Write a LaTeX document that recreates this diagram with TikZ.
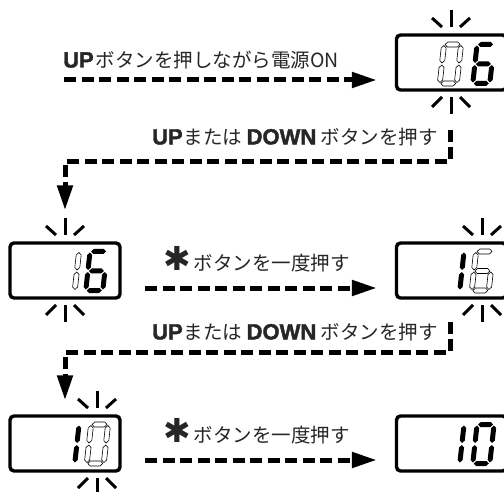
\documentclass[tikz,border=0pt]{standalone}
\usepackage{fontspec}
\usetikzlibrary{arrows.meta,calc}
\newfontfamily\jp{Noto Sans CJK JP}
\newfontfamily\hv{Liberation Sans}[BoldFeatures={FakeBold=1.8}]
\newfontfamily\sym{DejaVu Sans}
\newcommand\hvb[1]{{\hv\bfseries\fontsize{22}{22}\selectfont #1}}
\newcommand\astx{{\sym\fontsize{33}{33}\selectfont ✱}}
% seven segment pieces (local coords, y up)
\newcommand\hseg[3]{(#1+1,#3) -- (#1+3.5,#3+2.5) -- (#2-3.5,#3+2.5) -- (#2-1,#3) -- (#2-3.5,#3-2.5) -- (#1+3.5,#3-2.5) -- cycle}
\newcommand\vseg[3]{(#1,#2+1) -- (#1+2.5,#2+3.5) -- (#1+2.5,#3-3.5) -- (#1,#3-1) -- (#1-2.5,#3-3.5) -- (#1-2.5,#2+3.5) -- cycle}
\newcommand\dsga{\hseg{2.5}{19.5}{41.5}}
\newcommand\dsgb{\vseg{19.5}{22}{41.5}}
\newcommand\dsgc{\vseg{19.5}{2.5}{22}}
\newcommand\dsgd{\hseg{2.5}{19.5}{2.5}}
\newcommand\dsge{\vseg{2.5}{2.5}{22}}
\newcommand\dsgf{\vseg{2.5}{22}{41.5}}
\newcommand\dsgg{\hseg{2.5}{19.5}{22}}
\newcommand\Dzero{\dsga,\dsgb,\dsgc,\dsgd,\dsge,\dsgf}
\newcommand\Done{\dsgb,\dsgc}
\newcommand\Dsix{\dsga,\dsgc,\dsgd,\dsge,\dsgf,\dsgg}
\newcommand\dig[4]{\begin{scope}[shift={(#1,#2)},x=1pt,y=1pt,xslant=0.11]
  \foreach \s in #4 {\path[#3] \s;}\end{scope}}
\newcommand\rays[3]{%
  \draw[ray] (#1,#2-25) -- (#1,#2-8);
  \draw[ray] (#1-9,#2-8) -- (#1-19,#2-17);
  \draw[ray] (#1+9,#2-8) -- (#1+19,#2-17);
  \draw[ray] (#1,#3+7) -- (#1,#3+24);
  \draw[ray] (#1-9,#3+7) -- (#1-19,#3+17);
  \draw[ray] (#1+9,#3+7) -- (#1+19,#3+17);}
\tikzset{
  dispbox/.style={draw, line width=3.4pt, rounded corners=4pt, minimum width=110pt, minimum height=55pt, inner sep=0pt},
  lit/.style={fill=black},
  unlit/.style={draw=black, fill=white, line width=0.6pt, line join=round},
  ray/.style={line width=3pt},
  dline/.style={line width=5pt, dash pattern=on 12pt off 5.5pt, line join=miter},
  arr/.style={dline, -{Triangle[length=25pt,width=15pt]}},
  lbl/.style={font=\jp\fontsize{19.5}{22}\selectfont, inner sep=0pt, text=black!85}
}
\begin{document}
\begin{tikzpicture}[x=1pt,y=-1pt]
\useasboundingbox (0,0) rectangle (504,492);
\clip (0,0) rectangle (504,492);
% display boxes
\node[dispbox] (d1) at (451.5,62.5) {};
\node[dispbox] (d2) at (65,270.5) {};
\node[dispbox] (d3) at (451.5,270.5) {};
\node[dispbox] (d4) at (65,443.5) {};
\node[dispbox] (d5) at (451.5,443.5) {};
% digits
\dig{437}{86}{unlit}{\Dzero}
\dig{470}{86}{lit}{\Dsix}
\dig{55}{293}{unlit}{\Done}
\dig{83}{293}{lit}{\Dsix}
\dig{440}{293}{lit}{\Done}
\dig{469}{293}{unlit}{\Dsix}
\dig{55}{466}{lit}{\Done}
\dig{84}{466}{unlit}{\Dzero}
\dig{440}{466}{lit}{\Done}
\dig{470}{466}{lit}{\Dzero}
% blinking rays
\rays{451}{35}{90}
\rays{65}{243}{298}
\rays{482}{243}{298}
\rays{97}{416}{471}
% labels
\node[lbl, anchor=west] (t1) at (63,60) {\hvb{UP}\hspace{2pt}ボタンを押しながら電源ON};
\node[lbl, anchor=west] (t2) at (152,137) {\hvb{UP}\hspace{1pt}または \hvb{DOWN} ボタンを押す};
\node[lbl, anchor=west] (t3) at (163,259) {\astx\hspace{3pt}ボタンを一度押す};
\node[lbl, anchor=west] (t4) at (152,332) {\hvb{UP}\hspace{1pt}または \hvb{DOWN} ボタンを押す};
\node[lbl, anchor=west] (t5) at (163,431) {\astx\hspace{3pt}ボタンを一度押す};
% connectors
\coordinate (s1) at (64,80);
\draw[arr] (s1) -- ($(s1 -| d1.west)+(-18,0)$);
\draw[arr] ($(d1.south)+(-1.5,38)$) |- ($(d2.north)+(0,-80)$) -- ($(d2.north)+(0,-31)$);
\coordinate (s2) at (145,288);
\draw[arr] (s2) -- ($(s2 -| d3.west)+(-18,0)$);
\draw[arr] ($(d3.south)+(-1.5,22)$) |- ($(d4.north)+(0,-62)$) -- ($(d4.north)+(0,-14)$);
\coordinate (s3) at (145,460);
\draw[arr] (s3) -- ($(s3 -| d5.west)+(-18,0)$);
\end{tikzpicture}
\end{document}
